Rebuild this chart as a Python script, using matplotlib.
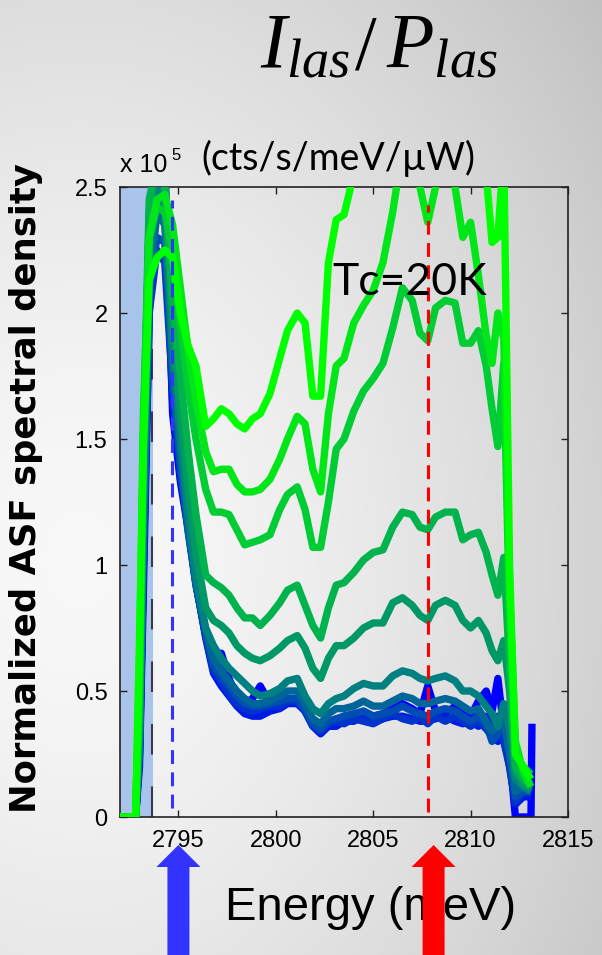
import numpy as np
import matplotlib
matplotlib.use("Agg")
import matplotlib.pyplot as plt
from matplotlib.patches import Polygon

# ---------------------------------------------------------------- data
# photon energy grid (meV), shared by all spectra
energy = [2792.0, 2792.8, 2793.0, 2793.2, 2793.5, 2793.9, 2794.3, 2794.7, 2795.1, 2795.5,
          2795.9, 2796.4, 2796.8, 2797.2, 2797.6, 2798.0, 2798.4, 2798.8, 2799.2, 2799.7,
          2800.2, 2800.6, 2801.1, 2801.5, 2801.9, 2802.3, 2802.7, 2803.1, 2803.5, 2804.0,
          2804.5, 2805.0, 2805.5, 2806.0, 2806.5, 2807.0, 2807.4, 2807.8, 2808.2, 2808.7,
          2809.2, 2809.6, 2810.0, 2810.4, 2810.8, 2811.1, 2811.4, 2811.7, 2812.0, 2812.3,
          2812.7, 2813.1]

# normalized ASF spectral density (x 1e5 cts/s/meV/uW), lowest to highest laser power
asf_p00 = [0, 0, 0.20, 0.90, 2.00, 2.60, 2.60, 1.60, 1.33, 1.14,
           0.93, 0.72, 0.60, 0.65, 0.55, 0.47, 0.45, 0.47, 0.52, 0.45,
           0.45, 0.47, 0.47, 0.44, 0.37, 0.34, 0.38, 0.37, 0.40, 0.40,
           0.42, 0.40, 0.41, 0.43, 0.45, 0.43, 0.41, 0.52, 0.42, 0.41,
           0.44, 0.42, 0.40, 0.46, 0.50, 0.42, 0.55, 0.35, 0.25, 0.0,
           0.0, 0.0]
asf_p01 = [0, 0, 0.25, 1.00, 2.10, 2.45, 2.40, 1.65, 1.35, 1.15,
           0.93, 0.71, 0.57, 0.52, 0.48, 0.44, 0.41, 0.40, 0.40, 0.42,
           0.43, 0.45, 0.45, 0.42, 0.36, 0.33, 0.36, 0.36, 0.38, 0.38,
           0.40, 0.38, 0.39, 0.40, 0.40, 0.39, 0.38, 0.38, 0.39, 0.40,
           0.38, 0.37, 0.38, 0.36, 0.40, 0.35, 0.30, 0.32, 0.20, 0.05,
           0.08, 0.08]
asf_p02 = [0, 0, 0.25, 1.00, 2.00, 2.25, 2.20, 1.70, 1.38, 1.15,
           0.92, 0.72, 0.58, 0.54, 0.49, 0.45, 0.43, 0.42, 0.43, 0.44,
           0.44, 0.46, 0.46, 0.42, 0.36, 0.34, 0.37, 0.38, 0.37, 0.39,
           0.38, 0.37, 0.39, 0.41, 0.39, 0.38, 0.40, 0.37, 0.40, 0.38,
           0.40, 0.38, 0.36, 0.38, 0.35, 0.32, 0.40, 0.30, 0.20, 0.06,
           0.10, 0.10]
asf_p03 = [0, 0, 0.30, 1.10, 2.10, 2.30, 2.28, 1.75, 1.40, 1.13,
           0.92, 0.73, 0.60, 0.56, 0.52, 0.48, 0.45, 0.44, 0.44, 0.45,
           0.46, 0.47, 0.47, 0.43, 0.37, 0.35, 0.38, 0.39, 0.40, 0.41,
           0.42, 0.40, 0.41, 0.42, 0.44, 0.42, 0.41, 0.40, 0.42, 0.43,
           0.42, 0.40, 0.38, 0.40, 0.37, 0.30, 0.33, 0.38, 0.25, 0.08,
           0.10, 0.10]
asf_p04 = [0, 0, 0.30, 1.10, 2.10, 2.40, 2.35, 1.80, 1.45, 1.15,
           0.93, 0.74, 0.63, 0.58, 0.54, 0.50, 0.47, 0.45, 0.45, 0.46,
           0.48, 0.50, 0.50, 0.45, 0.39, 0.37, 0.41, 0.43, 0.43, 0.44,
           0.46, 0.44, 0.44, 0.46, 0.48, 0.47, 0.45, 0.45, 0.46, 0.47,
           0.46, 0.44, 0.42, 0.43, 0.38, 0.34, 0.36, 0.40, 0.25, 0.10,
           0.12, 0.12]
asf_p05 = [0, 0, 0.30, 1.20, 2.20, 2.50, 2.40, 1.85, 1.50, 1.20,
           0.95, 0.75, 0.68, 0.63, 0.59, 0.56, 0.53, 0.50, 0.48, 0.49,
           0.51, 0.54, 0.55, 0.48, 0.43, 0.41, 0.45, 0.47, 0.48, 0.51,
           0.53, 0.52, 0.52, 0.56, 0.58, 0.57, 0.55, 0.54, 0.55, 0.56,
           0.54, 0.50, 0.50, 0.48, 0.44, 0.41, 0.36, 0.45, 0.35, 0.15,
           0.12, 0.10]
asf_p06 = [0, 0, 0.35, 1.40, 2.40, 2.60, 2.55, 1.95, 1.60, 1.30,
           1.05, 0.83, 0.78, 0.76, 0.73, 0.68, 0.65, 0.63, 0.62, 0.64,
           0.67, 0.70, 0.72, 0.67, 0.59, 0.55, 0.63, 0.68, 0.68, 0.71,
           0.75, 0.77, 0.77, 0.85, 0.87, 0.84, 0.80, 0.78, 0.84, 0.86,
           0.84, 0.78, 0.75, 0.78, 0.73, 0.66, 0.62, 0.70, 0.50, 0.18,
           0.13, 0.11]
asf_p07 = [0, 0, 0.45, 1.50, 2.45, 2.60, 2.50, 2.05, 1.75, 1.45,
           1.20, 0.96, 0.93, 0.91, 0.88, 0.83, 0.79, 0.79, 0.76, 0.80,
           0.85, 0.90, 0.92, 0.84, 0.76, 0.71, 0.83, 0.92, 0.93, 0.97,
           1.02, 1.05, 1.06, 1.15, 1.21, 1.20, 1.15, 1.14, 1.19, 1.21,
           1.21, 1.10, 1.12, 1.13, 1.05, 0.96, 0.88, 1.03, 0.60, 0.20,
           0.15, 0.13]
asf_p08 = [0, 0, 0.50, 1.50, 2.30, 2.42, 2.40, 2.25, 1.95, 1.70,
           1.50, 1.30, 1.21, 1.21, 1.20, 1.14, 1.08, 1.09, 1.10, 1.12,
           1.22, 1.28, 1.31, 1.22, 1.07, 1.07, 1.25, 1.46, 1.50, 1.61,
           1.69, 1.74, 1.80, 1.94, 2.10, 2.05, 1.92, 1.89, 2.02, 2.05,
           2.04, 1.88, 1.88, 1.93, 1.79, 1.62, 1.47, 1.80, 0.80, 0.25,
           0.20, 0.17]
asf_p09 = [0, 0, 0.60, 1.60, 2.30, 2.45, 2.47, 2.35, 2.10, 1.85,
           1.65, 1.45, 1.37, 1.38, 1.38, 1.32, 1.29, 1.29, 1.30, 1.34,
           1.42, 1.50, 1.59, 1.56, 1.38, 1.29, 1.60, 1.79, 1.82, 1.96,
           2.03, 2.09, 2.20, 2.40, 2.65, 2.65, 2.50, 2.36, 2.50, 2.60,
           2.50, 2.30, 2.36, 2.15, 1.91, 1.80, 2.00, 1.90, 0.90, 0.30,
           0.18, 0.12]
asf_p10 = [0, 0, 0.70, 1.45, 2.13, 2.22, 2.25, 2.22, 2.00, 1.87,
           1.79, 1.55, 1.58, 1.62, 1.60, 1.56, 1.54, 1.58, 1.60, 1.68,
           1.82, 1.93, 2.00, 1.96, 1.67, 1.67, 2.20, 2.37, 2.39, 2.55,
           2.75, 2.85, 2.90, 2.90, 2.90, 2.90, 2.90, 2.90, 2.90, 2.90,
           2.90, 2.85, 2.80, 2.80, 2.55, 2.28, 2.30, 2.65, 1.00, 0.25,
           0.20, 0.15]

spectra = [asf_p00, asf_p01, asf_p02, asf_p03, asf_p04, asf_p05,
           asf_p06, asf_p07, asf_p08, asf_p09, asf_p10]

# the lowest-power trace ends with a detector spike
tail_energy = [2813.15]
tail_asf_p00 = [0.37]

# markers
shade_range = (2792.0, 2793.7)
gap_energy = 2793.63
blue_energy = 2794.65
red_energy = 2807.8
arrow_blue_energy = 2795.0
arrow_red_energy = 2808.1

x_ticks = [2795, 2800, 2805, 2810, 2815]
y_ticks = [0, 0.5, 1, 1.5, 2, 2.5]
y_tick_labels = ["0", "0.5", "1", "1.5", "2", "2.5"]

# ---------------------------------------------------------------- figure
W, H = 602, 955
plt.rcParams["lines.scale_dashes"] = False
plt.rcParams["mathtext.fontset"] = "custom"
plt.rcParams["mathtext.rm"] = "Liberation Serif"
plt.rcParams["mathtext.it"] = "Liberation Serif:italic"

fig = plt.figure(figsize=(W / 100, H / 100), dpi=100)

# slide background: light grey shading, darker toward the right
bg = fig.add_axes([0, 0, 1, 1], zorder=-10)
yy, xx = np.mgrid[0:H, 0:W]
r = np.sqrt(((xx - 80) / 520.0) ** 2 + ((yy - 560) / 700.0) ** 2)
shade = np.clip(0.975 - 0.15 * r ** 1.5, 0, 1)
bg.imshow(np.dstack([shade] * 3), extent=[0, W, H, 0], aspect="auto", interpolation="bilinear")
bg.set_xlim(0, W)
bg.set_ylim(H, 0)
bg.axis("off")

L, R, T, B = 120, 568, 187, 817
ax = fig.add_axes([L / W, 1 - B / H, (R - L) / W, (B - T) / H])
ax.patch.set_alpha(0)

ax.axvspan(*shade_range, color="#a9c4ea", zorder=0, lw=0)
ax.axvline(gap_energy, color="#3a3a4a", lw=1.5, ls=(0, (22, 23)), zorder=1)

n = len(spectra)
for i, s in enumerate(spectra):
    t = i / (n - 1)
    e, v = list(energy), list(s)
    if i == 0:
        e, v = e + tail_energy, v + tail_asf_p00
    ax.plot(e, v, color=(0, t, 1 - t), lw=5.3, solid_joinstyle="round",
            solid_capstyle="butt", zorder=2 + i)

ax.plot([blue_energy, blue_energy], [0.035, 2.45], color="#3333ff", lw=2.2,
        ls=(0, (10, 6)), zorder=20)
ax.plot([red_energy, red_energy], [0.02, 2.43], color="#ff0000", lw=2.2,
        ls=(0, (10, 6)), zorder=20)

ax.text(2806.87, 2.07, "Tc=20K", fontsize=32, family="Lato", ha="center",
        va="baseline", zorder=30)

ax.set_xlim(2792, 2815)
ax.set_ylim(0, 2.5)
ax.set_xticks(x_ticks)
ax.set_xticklabels([str(x) for x in x_ticks])
ax.set_yticks(y_ticks)
ax.set_yticklabels(y_tick_labels)
ax.tick_params(direction="in", length=5, width=1, top=True, right=True,
               labelsize=17, pad=9, colors="#222222", labelcolor="black")
for lab in ax.get_xticklabels() + ax.get_yticklabels():
    lab.set_family("Liberation Sans")
for sp in ax.spines.values():
    sp.set_color("#222222")
    sp.set_linewidth(1.2)


def ftext(x, y, s, **kw):
    """Place text at pixel coordinates measured from the top-left corner."""
    return fig.text(x / W, 1 - y / H, s, **kw)


# axis annotations
ftext(26, 488, "Normalized ASF spectral density", rotation=90, fontsize=25.5,
      fontweight="bold", family="DejaVu Sans", ha="center", va="center")
ftext(120, 172, "x 10", fontsize=18, family="Liberation Sans", va="baseline")
ftext(171, 160, "5", fontsize=12, family="Liberation Sans", va="baseline")
ftext(338, 170, "(cts/s/meV/\u00b5W)", fontsize=27, family="Lato",
      ha="center", va="baseline")
ftext(371, 920, "Energy (meV)", fontsize=34, family="Liberation Sans",
      ha="center", va="baseline")

# heading: I_las / P_las
ftext(260, 68, r"$I_{las}$", fontsize=56, va="baseline")
ftext(355, 68, "/", fontsize=56, family="Liberation Serif", va="baseline")
ftext(386, 68, r"$P_{las}$", fontsize=56, va="baseline")

# arrows marking the two probe energies
ov = fig.add_axes([0, 0, 1, 1], zorder=50)
ov.set_xlim(0, W)
ov.set_ylim(H, 0)
ov.axis("off")


def e2px(e):
    return L + (e - 2792) / 23.0 * (R - L)


def up_arrow(xc, color):
    tip, neck, shaft, head = 845, 867, 11, 22
    pts = [(xc, tip), (xc + head, neck), (xc + shaft, neck), (xc + shaft, H + 5),
           (xc - shaft, H + 5), (xc - shaft, neck), (xc - head, neck)]
    ov.add_patch(Polygon(pts, closed=True, color=color, lw=0))


up_arrow(e2px(arrow_blue_energy), "#3333ff")
up_arrow(e2px(arrow_red_energy), "#ff0000")

fig.savefig("out.png", dpi=100)
